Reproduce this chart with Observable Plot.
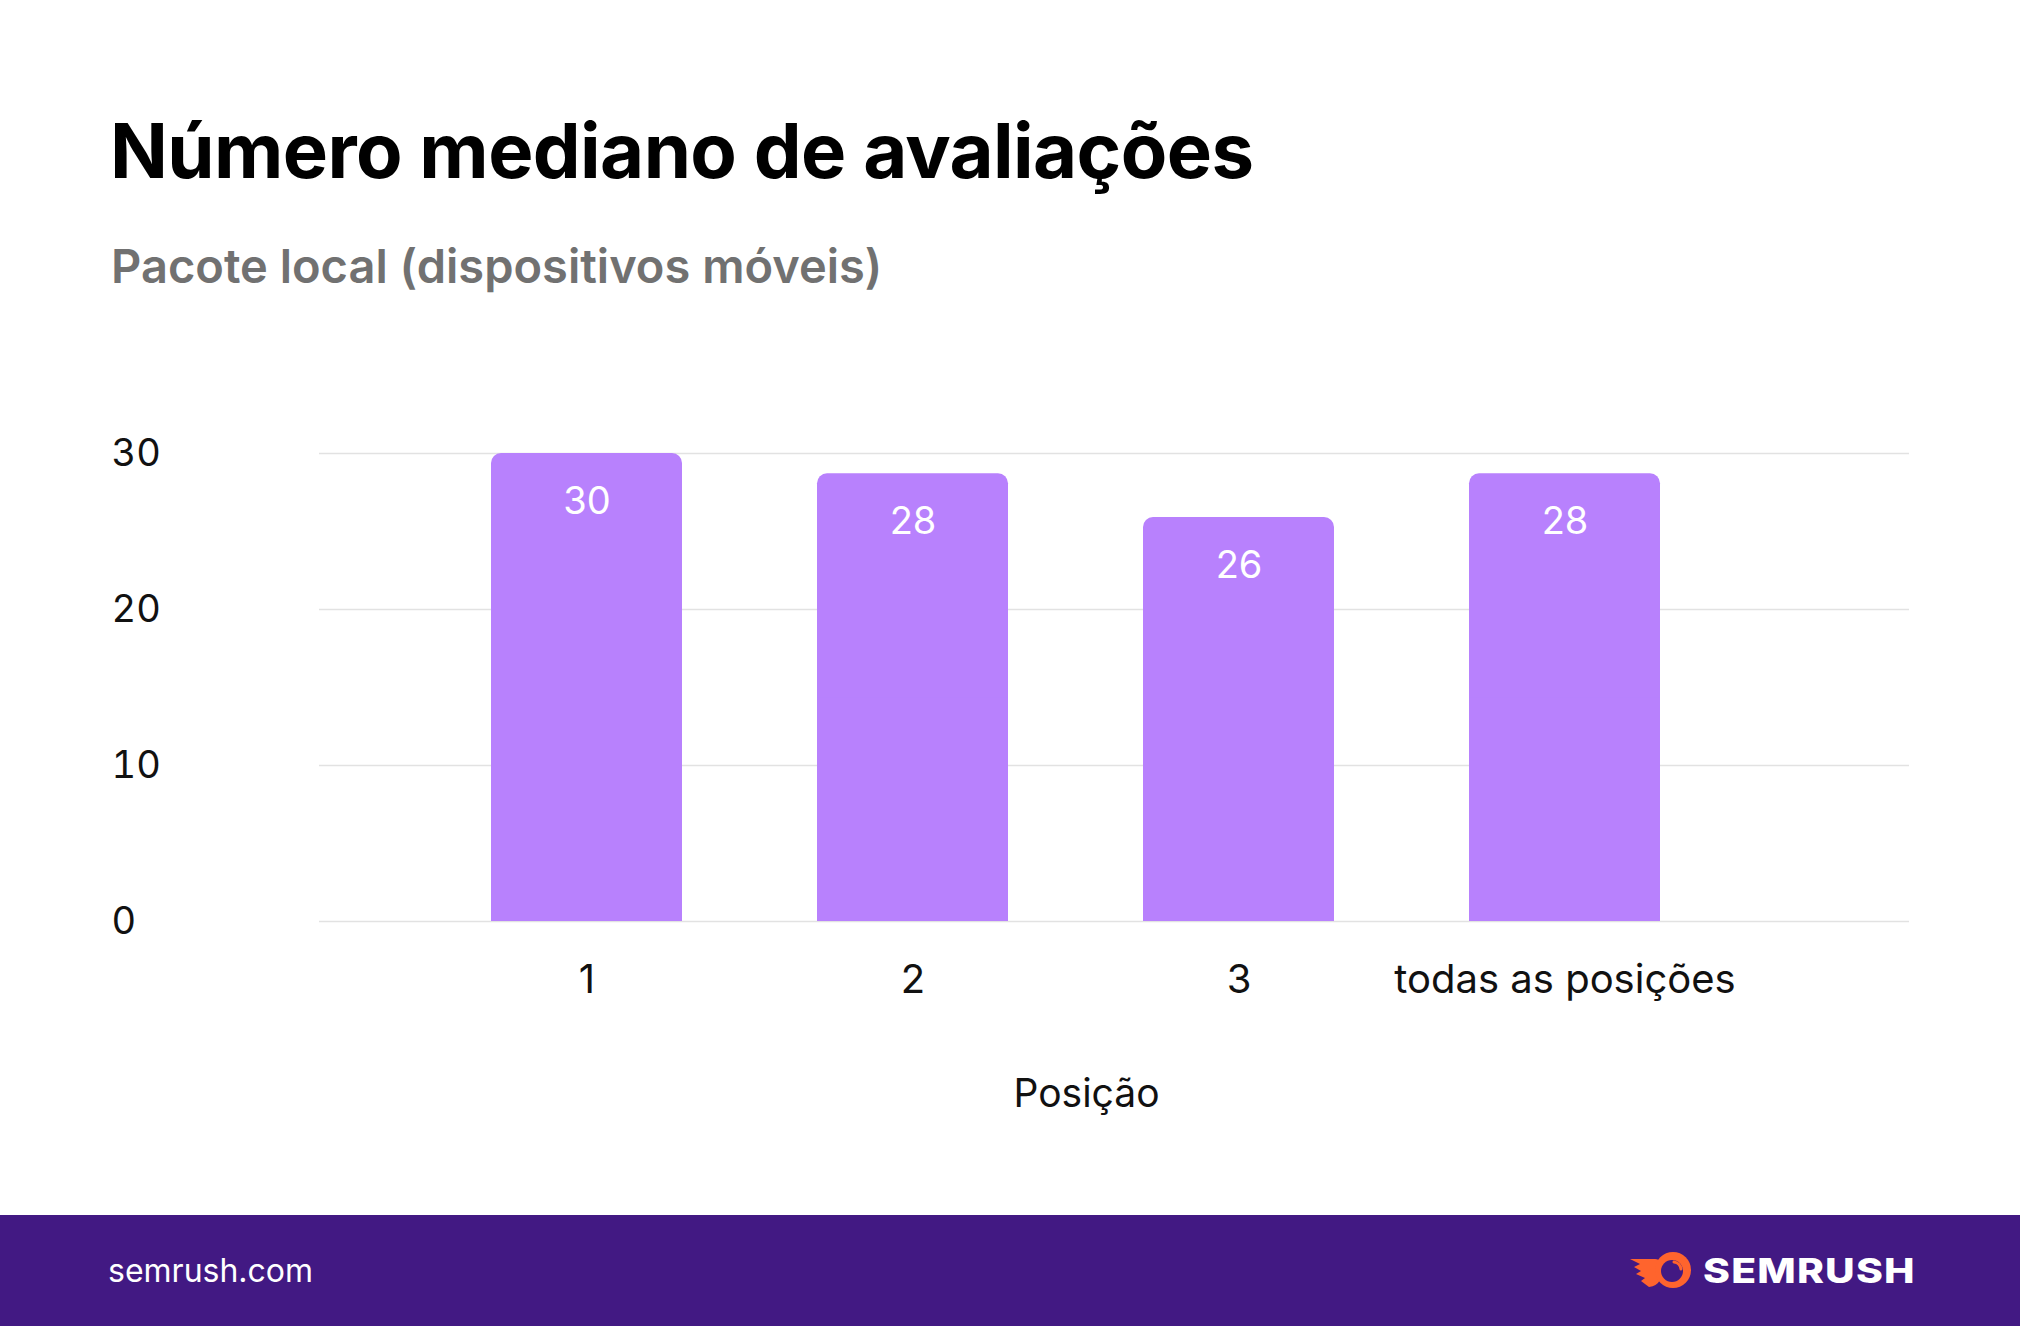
<!DOCTYPE html>
<html>
<head>
<meta charset="utf-8">
<script src="https://cdn.jsdelivr.net/npm/d3@7"></script>
<script src="https://cdn.jsdelivr.net/npm/@observablehq/plot@0.6"></script>
<style>
  html, body { margin: 0; padding: 0; background: #ffffff; }
  #page { position: relative; width: 2020px; height: 1326px; overflow: hidden; font-family: Inter, "Noto Sans", sans-serif; background: #fff; }
  #title { position: absolute; left: 110px; top: 112px; font-size: 76px; font-weight: 700; color: #000; letter-spacing: -0.6px; line-height: 1; white-space: nowrap; }
  #subtitle { position: absolute; left: 111px; top: 242px; font-size: 47px; font-weight: 600; color: #717171; line-height: 1; white-space: nowrap; }
  #chart { position: absolute; left: 0; top: 380px; }
  #footer { position: absolute; left: 0; top: 1215px; width: 2020px; height: 111px; background: #421983; }
  #site { position: absolute; left: 108px; top: 1255px; font-size: 32px; color: #fff; line-height: 1; white-space: nowrap; }
  #logo { position: absolute; left: 1629px; top: 1250px; }
  #brand { position: absolute; left: 1703px; top: 1254px; font-size: 34px; font-weight: 800; color: #fff; line-height: 1; letter-spacing: 1px; transform: scaleX(1.2); transform-origin: left center; white-space: nowrap; }
</style>
</head>
<body>
<div id="page">
  <div id="title">Número mediano de avaliações</div>
  <div id="subtitle">Pacote local (dispositivos móveis)</div>
  <div id="chart"></div>
  <div id="footer"></div>
  <div id="site">semrush.com</div>
  <svg id="logo" width="64" height="40" viewBox="0 0 64 40">
    <path d="M1,9 L26,9 Q30,9 31,12 L31,30 Q28,36 20,37 L12,31 L16,28 L7,24 L12,21 L5,17 L11,14 Z" fill="#ff642d"/>
    <circle cx="44" cy="20" r="18" fill="#ff642d"/>
    <circle cx="43" cy="21" r="11" fill="#421983"/>
    <path d="M45,12 A8 8 0 0 1 52,19" stroke="#ff642d" stroke-width="3" fill="none" stroke-linecap="round"/>
  </svg>
  <div id="brand">SEMRUSH</div>
</div>
<script>
// Data
const positions = ["1", "2", "3", "todas as posições"];
const values = [30, 28.7, 25.9, 28.7];
const valueLabels = ["30", "28", "26", "28"];
const yTicks = [0, 10, 20, 30];
const xTitle = "Posição";

const data = positions.map((p, i) => ({pos: p, value: values[i], label: valueLabels[i]}));

const barColor = "#b881fd";

const chart = Plot.plot({
  width: 2020,
  height: 760,
  marginTop: 73,
  marginBottom: 219,
  marginLeft: 319,
  marginRight: 111,
  style: {fontFamily: "Inter, 'Noto Sans', sans-serif", fontSize: "38px", color: "#111", background: "transparent", overflow: "visible"},
  x: {type: "band", domain: positions, range: [354, 1797], padding: 0.413, label: null},
  y: {domain: [0, 30], label: null},
  marks: [
    Plot.ruleY(yTicks, {stroke: "#e2e2e2", strokeWidth: 1.6}),
    Plot.barY(data, {x: "pos", y: "value", fill: barColor, rx: 10}),
    Plot.barY(data, {x: "pos", y1: 0, y2: d => d.value / 2, fill: barColor}),
    Plot.text(data, {x: "pos", y: "value", text: "label", dy: 48, fill: "#ffffff", fontSize: 38, fontWeight: 400}),
    Plot.axisY(yTicks, {tickSize: 0, tickPadding: 0, textAnchor: "start", dx: -208, fontSize: 38, fill: "#111", label: null}),
    Plot.axisX({tickSize: 0, tickPadding: 43, fontSize: 40, fill: "#111", label: null}),
    Plot.text([xTitle], {frameAnchor: "bottom", lineAnchor: "middle", dx: -28, dy: 173, fontSize: 39, fill: "#111"})
  ]
});
document.getElementById("chart").appendChild(chart);
</script>
</body>
</html>
